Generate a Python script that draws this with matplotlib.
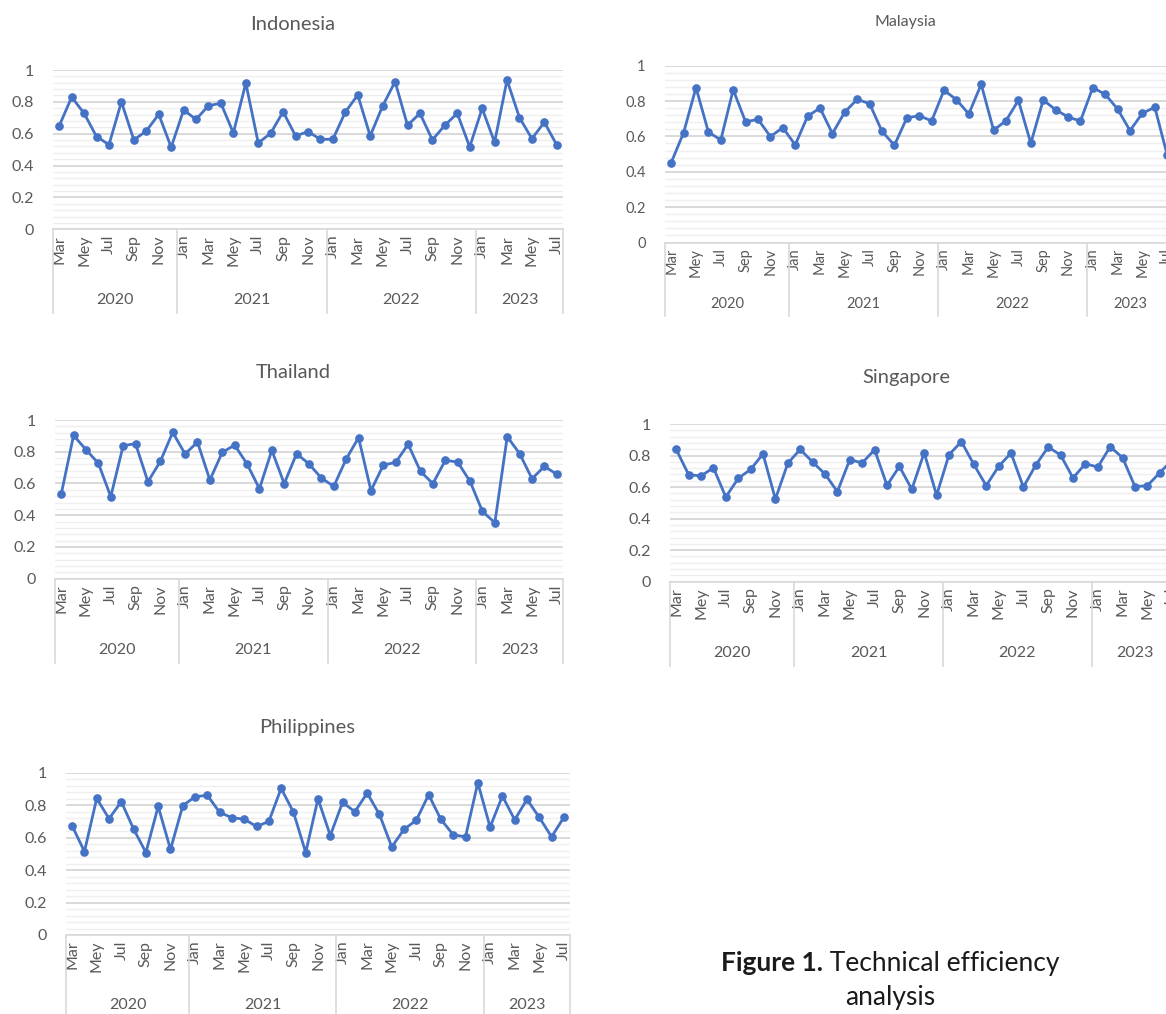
import matplotlib
matplotlib.use("Agg")
import matplotlib.pyplot as plt
import numpy as np

plt.rcParams['font.family'] = ['Lato', 'DejaVu Sans']

# ---------------- data ----------------
month_names = ['Jan', 'Feb', 'Mar', 'Apr', 'Mey', 'Jun', 'Jul', 'Agu', 'Sep', 'Okt', 'Nov', 'Des']
years = ['2020', '2021', '2022', '2023']
year_month_counts = [10, 12, 12, 7]          # Mar-Dec 2020, 2021, 2022, Jan-Jul 2023
start_month_index = 2                        # March

indonesia = [0.649, 0.830, 0.728, 0.582, 0.531, 0.800, 0.561, 0.617, 0.722, 0.515,
             0.749, 0.690, 0.776, 0.791, 0.605, 0.918, 0.542, 0.603, 0.738, 0.586,
             0.613, 0.565, 0.565, 0.736, 0.843, 0.586, 0.774, 0.927, 0.653, 0.728,
             0.561, 0.653, 0.728, 0.517, 0.759, 0.546, 0.937, 0.701, 0.569, 0.672, 0.529]
malaysia = [0.452, 0.621, 0.876, 0.625, 0.580, 0.864, 0.682, 0.697, 0.599, 0.650,
            0.552, 0.714, 0.761, 0.616, 0.738, 0.810, 0.785, 0.629, 0.550, 0.704,
            0.718, 0.687, 0.861, 0.808, 0.727, 0.895, 0.635, 0.689, 0.804, 0.561,
            0.806, 0.751, 0.710, 0.687, 0.876, 0.838, 0.755, 0.633, 0.731, 0.765, 0.495]
thailand = [0.532, 0.903, 0.813, 0.727, 0.517, 0.838, 0.851, 0.611, 0.739, 0.922,
            0.786, 0.861, 0.622, 0.796, 0.842, 0.723, 0.567, 0.809, 0.599, 0.788,
            0.723, 0.634, 0.582, 0.754, 0.889, 0.555, 0.716, 0.733, 0.847, 0.676,
            0.599, 0.746, 0.735, 0.613, 0.424, 0.353, 0.895, 0.788, 0.630, 0.708, 0.658]
singapore = [0.839, 0.679, 0.670, 0.723, 0.537, 0.655, 0.712, 0.810, 0.524, 0.751,
             0.839, 0.759, 0.683, 0.571, 0.774, 0.753, 0.837, 0.611, 0.731, 0.586,
             0.818, 0.548, 0.805, 0.888, 0.744, 0.609, 0.731, 0.816, 0.600, 0.740,
             0.854, 0.803, 0.658, 0.748, 0.727, 0.856, 0.786, 0.603, 0.609, 0.691, 0.772]
philippines = [0.674, 0.515, 0.843, 0.718, 0.823, 0.654, 0.509, 0.794, 0.528, 0.798,
               0.854, 0.862, 0.757, 0.724, 0.715, 0.670, 0.701, 0.905, 0.759, 0.509,
               0.841, 0.614, 0.819, 0.761, 0.876, 0.744, 0.544, 0.652, 0.709, 0.866,
               0.713, 0.619, 0.606, 0.940, 0.666, 0.858, 0.711, 0.837, 0.726, 0.606, 0.726]

# ---------------- layout ----------------
W, H = 1166, 1014
fig = plt.figure(figsize=(W / 100, H / 100), dpi=100)

LINE = '#4472C4'
TXT = '#595959'
GRID_MAJ = '#D9D9D9'
GRID_MIN = '#EFEFEF'

n_pts = sum(year_month_counts)
cat_labels = [month_names[(start_month_index + i) % 12] for i in range(n_pts)]

# name, values, left, right, y(1.0), y(0), box bottom, title(x,y), year label y, sizes(title, tick, year)
panels = [
    ('Indonesia', indonesia, 53, 563, 70, 229.3, 313, (293, 24), 300, (14.5, 11.5, 11.5)),
    ('Malaysia', malaysia, 665, 665 + 41 * 12.4, 65.7, 242.5, 316, (905, 22), 304, (11.5, 10.5, 10.5)),
    ('Thailand', thailand, 55, 563, 420, 578.7, 663, (293, 373), 650, (14.5, 11.5, 11.5)),
    ('Singapore', singapore, 670, 670 + 41 * 12.4, 424, 581.7, 666, (906, 378), 653, (14.5, 11.5, 11.5)),
    ('Philippines', philippines, 66, 570, 773, 935, 1030, (307, 727), 1005, (14.5, 11.5, 11.5)),
]

for name, vals, left, right, y1, y0, bot, (tx, ty), yy, (fs_t, fs_k, fs_y) in panels:
    ax = fig.add_axes([left / W, 1 - y0 / H, (right - left) / W, (y0 - y1) / H])
    x = np.arange(len(vals))
    ax.set_xlim(-0.5, len(vals) - 0.5)
    ax.set_ylim(0, 1)
    ax.set_yticks(np.arange(0, 1.01, 0.2))
    ax.set_yticklabels(['0', '0.2', '0.4', '0.6', '0.8', '1'])
    ax.set_yticks(np.arange(0, 1.001, 0.04), minor=True)
    ax.grid(True, which='minor', axis='y', color=GRID_MIN, lw=1.0, zorder=0)
    ax.grid(True, which='major', axis='y', color=GRID_MAJ, lw=1.4, zorder=0)
    ax.set_axisbelow(True)
    for s in ['top', 'right', 'left']:
        ax.spines[s].set_visible(False)
    ax.spines['bottom'].set_color(GRID_MAJ)
    ax.spines['bottom'].set_linewidth(1.2)
    ax.tick_params(axis='y', which='both', length=0, labelsize=fs_k, labelcolor=TXT, pad=14)
    ax.tick_params(axis='x', which='both', length=0, labelsize=fs_k, labelcolor=TXT, pad=4)
    ticks = x[::2]
    ax.set_xticks(ticks)
    ax.set_xticklabels([cat_labels[i] for i in ticks], rotation=90, va='top', ha='center')

    ax.plot(x, vals, color=LINE, lw=2.0, marker='o', markersize=5.2, zorder=3, clip_on=False)

    # multi-level category axis: year separators and labels
    trans = ax.get_xaxis_transform()
    depth = -(bot - y0) / (y0 - y1)
    ylab = -(yy - y0) / (y0 - y1)
    bounds = np.concatenate([[0], np.cumsum(year_month_counts)]) - 0.5
    for b in bounds:
        ax.plot([b, b], [0, depth], transform=trans, color=GRID_MAJ, lw=1.2, clip_on=False)
    for i, yr in enumerate(years):
        ax.text((bounds[i] + bounds[i + 1]) / 2, ylab, yr, transform=trans,
                ha='center', va='center', fontsize=fs_y, color=TXT)

    fig.text(tx / W, 1 - ty / H, name, ha='center', va='center', fontsize=fs_t, color=TXT)

# caption
renderer = fig.canvas.get_renderer()
cap_y = 1 - 963 / H
t1 = fig.text(0, cap_y, 'Figure 1.', fontsize=19, fontweight='bold', color='#1a1a1a', va='center')
t2 = fig.text(0, cap_y, ' Technical efficiency', fontsize=19, color='#1a1a1a', va='center')
w1 = t1.get_window_extent(renderer).width
w2 = t2.get_window_extent(renderer).width
x0 = 890 - (w1 + w2) / 2
t1.set_x(x0 / W)
t2.set_x((x0 + w1) / W)
fig.text(890 / W, 1 - 998 / H, 'analysis', fontsize=19, color='#1a1a1a', ha='center', va='center')

fig.savefig('out.png', dpi=100)
